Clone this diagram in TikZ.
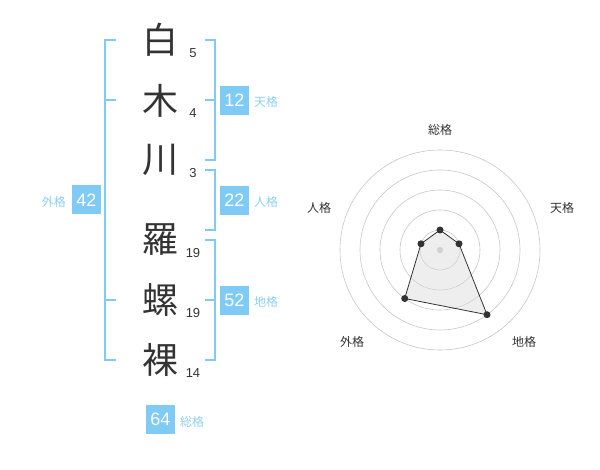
\documentclass[tikz,border=0pt]{standalone}
\usepackage{fontspec}
\setmainfont{Liberation Sans}
\newfontfamily\cjk{Noto Sans CJK JP}
\definecolor{bluebox}{HTML}{7FCBF6}
\definecolor{bluetxt}{HTML}{8ED0F4}
\definecolor{darktxt}{HTML}{333333}
\begin{document}
\begin{tikzpicture}[x=1pt,y=-1pt,
  kanji/.style={font=\cjk\fontsize{36}{36}\selectfont, text=darktxt, inner sep=0pt},
  strokes/.style={font=\fontsize{13}{13}\selectfont, text=darktxt, inner sep=0pt},
  numbox/.style={fill=bluebox, text=white, minimum width=29pt, minimum height=29pt, inner sep=0pt, font=\fontsize{18}{18}\selectfont},
  kaku/.style={font=\cjk\fontsize{12}{12}\selectfont, text=bluetxt, inner sep=0pt},
  brk/.style={draw=bluebox, line width=1.6pt},
  ring/.style={draw=black!22, line width=0.6pt},
  rlabel/.style={font=\cjk\fontsize{12}{12}\selectfont, text=darktxt, inner sep=0pt},
  vdot/.style={circle, fill=darktxt, inner sep=0pt, minimum size=7pt}]
\useasboundingbox (0,0) rectangle (600,470);
% kanji
\node[kanji] (k1) at (160,40) {白};
\node[kanji] (k2) at (160,101) {木};
\node[kanji] (k3) at (160,160) {川};
\node[kanji] (k4) at (160,240) {羅};
\node[kanji] (k5) at (160,300) {螺};
\node[kanji] (k6) at (160,360) {裸};
\node[strokes] (s1) at (193,53) {5};
\node[strokes] (s2) at (193,113) {4};
\node[strokes] (s3) at (193,173) {3};
\node[strokes] (s4) at (193,253) {19};
\node[strokes] (s5) at (193,313) {19};
\node[strokes] (s6) at (193,373) {14};
% outer bracket
\coordinate (g1) at (116,40);
\coordinate (g2) at (105,40);
\coordinate (g3) at (105,360);
\coordinate (g4) at (116,360);
\draw[brk] (g1) -- (g2) -- (g3) -- (g4);
\coordinate (g5) at (105,100);
\coordinate (g6) at (116,100);
\coordinate (g7) at (105,300);
\coordinate (g8) at (116,300);
\draw[brk] (g5) -- (g6);
\draw[brk] (g7) -- (g8);
\node[numbox] (b42) at (86.5,200) {42};
\node[kaku, anchor=east] (l42) at (66,202) {外格};
% ten bracket
\coordinate (t1) at (205,40);
\coordinate (t2) at (215,40);
\coordinate (t3) at (215,160);
\coordinate (t4) at (205,160);
\draw[brk] (t1) -- (t2) -- (t3) -- (t4);
\coordinate (t5) at (205,100);
\coordinate (t6) at (215,100);
\draw[brk] (t5) -- (t6);
\node[numbox] (b12) at (234.5,100.5) {12};
\node[kaku, anchor=west] (l12) at (254,102) {天格};
% jin bracket
\coordinate (j1) at (205,170);
\coordinate (j2) at (215,170);
\coordinate (j3) at (215,230);
\coordinate (j4) at (205,230);
\draw[brk] (j1) -- (j2) -- (j3) -- (j4);
\node[numbox] (b22) at (234.5,200.5) {22};
\node[kaku, anchor=west] (l22) at (254,202) {人格};
% chi bracket
\coordinate (c1) at (205,240);
\coordinate (c2) at (215,240);
\coordinate (c3) at (215,360);
\coordinate (c4) at (205,360);
\draw[brk] (c1) -- (c2) -- (c3) -- (c4);
\coordinate (c5) at (205,300);
\coordinate (c6) at (215,300);
\draw[brk] (c5) -- (c6);
\node[numbox] (b52) at (234.5,300.5) {52};
\node[kaku, anchor=west] (l52) at (254,302) {地格};
% total
\node[numbox] (b64) at (160.5,419) {64};
\node[kaku, anchor=west] (l64) at (180,422) {総格};
% radar
\coordinate (o) at (440,250);
\foreach \r in {20,40,60,80,100} \draw[ring] (o) circle[radius=\r];
\fill[black!20] (o) circle[radius=3.2];
\coordinate (p1) at (440,230);
\coordinate (p2) at (459,243.8);
\coordinate (p3) at (487,314.7);
\coordinate (p4) at (404.7,298.5);
\coordinate (p5) at (421,243.8);
\filldraw[fill=black!15, fill opacity=0.45, draw=darktxt, line width=0.8pt] (p1) -- (p2) -- (p3) -- (p4) -- (p5) -- cycle;
\foreach \p in {p1,p2,p3,p4,p5} \node[vdot] at (\p) {};
\node[rlabel] (r1) at (440,130) {総格};
\node[rlabel] (r2) at (562,208) {天格};
\node[rlabel] (r3) at (319,208) {人格};
\node[rlabel] (r4) at (352,342) {外格};
\node[rlabel] (r5) at (524,342) {地格};
\end{tikzpicture}
\end{document}
